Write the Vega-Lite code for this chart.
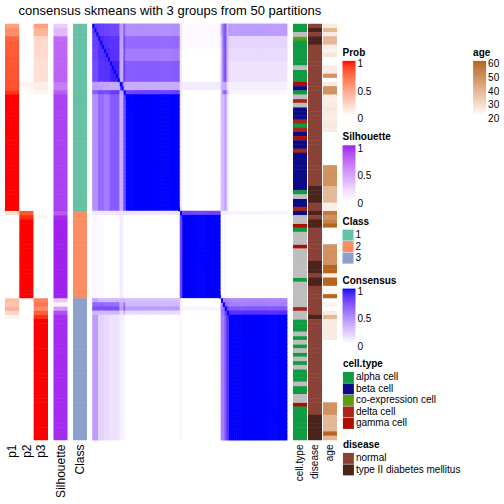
{
  "$schema": "https://vega.github.io/schema/vega-lite/v6.json",
  "padding": {"left": 5, "top": 4, "right": 0, "bottom": 0},
  "autosize": {"type": "pad"},
  "title": {"text": "consensus skmeans with 3 groups from 50 partitions", "anchor": "start", "frame": "group", "dx": 13.5, "fontSize": 13, "fontWeight": "normal", "font": "Liberation Sans", "color": "black", "offset": 5.7, "baseline": "top"},
  "bounds": "flush",
  "spacing": 5.5,
  "config": {
    "view": {"stroke": null},
    "font": "Liberation Sans",
    "axis": {"labelFont": "Liberation Sans", "labelColor": "black", "labelFontSize": 12, "ticks": false, "domain": false, "grid": false, "labelPadding": 4, "title": null, "labelAngle": -90},
    "legend": {"titleFont": "Liberation Sans", "titleFontSize": 10, "titleFontWeight": "bold", "titleColor": "black", "labelFont": "Liberation Sans", "labelFontSize": 10, "labelColor": "black", "gradientLength": 55, "gradientThickness": 13, "gradientStrokeWidth": 0, "labelOffset": 2, "titlePadding": 3, "padding": 0, "symbolType": "square", "symbolSize": 121, "symbolStrokeWidth": 0, "rowPadding": 0.5, "direction": "vertical", "labelOverlap": false}
  },
  "resolve": {"scale": {"color": "independent", "x": "independent", "y": "independent"}, "legend": {"color": "independent"}},
  "datasets": {
    "samples": [
      {"k":0,"cls":"1","p1":0.5,"p2":0,"p3":0.5,"sil":0.25,"ct":"alpha cell","dis":"normal","age":25},
      {"k":1,"cls":"1","p1":0.6,"p2":0,"p3":0.4,"sil":0.35,"ct":"alpha cell","dis":"type II diabetes mellitus","age":38},
      {"k":2,"cls":"1","p1":0.6,"p2":0,"p3":0.4,"sil":0.35,"ct":null,"dis":"normal","age":25},
      {"k":3,"cls":"1","p1":0.78,"p2":0,"p3":0.22,"sil":0.72,"ct":"co-expression cell","dis":"type II diabetes mellitus","age":38},
      {"k":4,"cls":"1","p1":0.8,"p2":0,"p3":0.2,"sil":0.75,"ct":"alpha cell","dis":"type II diabetes mellitus","age":38},
      {"k":5,"cls":"1","p1":0.8,"p2":0,"p3":0.2,"sil":0.75,"ct":"alpha cell","dis":"normal","age":25},
      {"k":6,"cls":"1","p1":0.8,"p2":0,"p3":0.2,"sil":0.75,"ct":"alpha cell","dis":"normal","age":23},
      {"k":7,"cls":"1","p1":0.8,"p2":0,"p3":0.2,"sil":0.75,"ct":"alpha cell","dis":"normal","age":26},
      {"k":8,"cls":"1","p1":0.83,"p2":0,"p3":0.17,"sil":0.76,"ct":"alpha cell","dis":"normal","age":20},
      {"k":9,"cls":"1","p1":0.83,"p2":0,"p3":0.17,"sil":0.76,"ct":"alpha cell","dis":"normal","age":20},
      {"k":10,"cls":"1","p1":0.83,"p2":0,"p3":0.17,"sil":0.76,"ct":null,"dis":"normal","age":25},
      {"k":11,"cls":"1","p1":0.83,"p2":0,"p3":0.17,"sil":0.76,"ct":"alpha cell","dis":"normal","age":25},
      {"k":12,"cls":"1","p1":0.83,"p2":0,"p3":0.17,"sil":0.76,"ct":"alpha cell","dis":"normal","age":48},
      {"k":13,"cls":"1","p1":0.83,"p2":0,"p3":0.17,"sil":0.76,"ct":"alpha cell","dis":"normal","age":20},
      {"k":14,"cls":"1","p1":0.84,"p2":0.08,"p3":0.08,"sil":0.65,"ct":"gamma cell","dis":"normal","age":25},
      {"k":15,"cls":"1","p1":0.86,"p2":0.04,"p3":0.1,"sil":0.65,"ct":"beta cell","dis":"normal","age":48},
      {"k":16,"cls":"1","p1":0.93,"p2":0.02,"p3":0.05,"sil":0.8,"ct":"alpha cell","dis":"normal","age":48},
      {"k":17,"cls":"1","p1":1,"p2":0,"p3":0,"sil":0.9,"ct":null,"dis":"normal","age":25},
      {"k":18,"cls":"1","p1":1,"p2":0,"p3":0,"sil":0.9,"ct":"delta cell","dis":"normal","age":24},
      {"k":19,"cls":"1","p1":1,"p2":0,"p3":0,"sil":0.9,"ct":null,"dis":"normal","age":25},
      {"k":20,"cls":"1","p1":1,"p2":0,"p3":0,"sil":0.9,"ct":"beta cell","dis":"normal","age":26},
      {"k":21,"cls":"1","p1":1,"p2":0,"p3":0,"sil":0.9,"ct":"beta cell","dis":"normal","age":25},
      {"k":22,"cls":"1","p1":1,"p2":0,"p3":0,"sil":0.9,"ct":"beta cell","dis":"normal","age":24},
      {"k":23,"cls":"1","p1":1,"p2":0,"p3":0,"sil":0.9,"ct":"delta cell","dis":"normal","age":25},
      {"k":24,"cls":"1","p1":1,"p2":0,"p3":0,"sil":0.9,"ct":"alpha cell","dis":"normal","age":26},
      {"k":25,"cls":"1","p1":1,"p2":0,"p3":0,"sil":0.9,"ct":"delta cell","dis":"normal","age":25},
      {"k":26,"cls":"1","p1":1,"p2":0,"p3":0,"sil":0.9,"ct":"beta cell","dis":"normal","age":20},
      {"k":27,"cls":"1","p1":1,"p2":0,"p3":0,"sil":0.9,"ct":"gamma cell","dis":"normal","age":20},
      {"k":28,"cls":"1","p1":1,"p2":0,"p3":0,"sil":0.9,"ct":"beta cell","dis":"normal","age":20},
      {"k":29,"cls":"1","p1":1,"p2":0,"p3":0,"sil":0.9,"ct":"beta cell","dis":"normal","age":20},
      {"k":30,"cls":"1","p1":1,"p2":0,"p3":0,"sil":0.9,"ct":"delta cell","dis":"normal","age":20},
      {"k":31,"cls":"1","p1":1,"p2":0,"p3":0,"sil":0.9,"ct":"beta cell","dis":"normal","age":20},
      {"k":32,"cls":"1","p1":1,"p2":0,"p3":0,"sil":0.9,"ct":"beta cell","dis":"normal","age":20},
      {"k":33,"cls":"1","p1":1,"p2":0,"p3":0,"sil":0.9,"ct":"beta cell","dis":"normal","age":20},
      {"k":34,"cls":"1","p1":1,"p2":0,"p3":0,"sil":0.9,"ct":"beta cell","dis":"normal","age":48},
      {"k":35,"cls":"1","p1":1,"p2":0,"p3":0,"sil":0.9,"ct":"beta cell","dis":"normal","age":48},
      {"k":36,"cls":"1","p1":1,"p2":0,"p3":0,"sil":0.9,"ct":"beta cell","dis":"normal","age":48},
      {"k":37,"cls":"1","p1":1,"p2":0,"p3":0,"sil":0.9,"ct":"beta cell","dis":"normal","age":48},
      {"k":38,"cls":"1","p1":1,"p2":0,"p3":0,"sil":0.9,"ct":"beta cell","dis":"normal","age":48},
      {"k":39,"cls":"1","p1":1,"p2":0,"p3":0,"sil":0.9,"ct":"beta cell","dis":"type II diabetes mellitus","age":38},
      {"k":40,"cls":"1","p1":1,"p2":0,"p3":0,"sil":0.9,"ct":"alpha cell","dis":"type II diabetes mellitus","age":38},
      {"k":41,"cls":"1","p1":1,"p2":0,"p3":0,"sil":0.9,"ct":null,"dis":"type II diabetes mellitus","age":38},
      {"k":42,"cls":"1","p1":1,"p2":0,"p3":0,"sil":0.9,"ct":"beta cell","dis":"type II diabetes mellitus","age":38},
      {"k":43,"cls":"1","p1":1,"p2":0,"p3":0,"sil":0.9,"ct":"beta cell","dis":"normal","age":24},
      {"k":44,"cls":"1","p1":1,"p2":0,"p3":0,"sil":0.9,"ct":"delta cell","dis":"normal","age":24},
      {"k":45,"cls":"2","p1":0.18,"p2":0.82,"p3":0,"sil":0.8,"ct":"beta cell","dis":"type II diabetes mellitus","age":54},
      {"k":46,"cls":"2","p1":0,"p2":0.95,"p3":0.05,"sil":0.97,"ct":null,"dis":"normal","age":48},
      {"k":47,"cls":"2","p1":0,"p2":1,"p3":0,"sil":1,"ct":null,"dis":"type II diabetes mellitus","age":52},
      {"k":48,"cls":"2","p1":0,"p2":1,"p3":0,"sil":1,"ct":"gamma cell","dis":"type II diabetes mellitus","age":60},
      {"k":49,"cls":"2","p1":0,"p2":1,"p3":0,"sil":1,"ct":"alpha cell","dis":"normal","age":20},
      {"k":50,"cls":"2","p1":0,"p2":1,"p3":0,"sil":1,"ct":null,"dis":"normal","age":20},
      {"k":51,"cls":"2","p1":0,"p2":1,"p3":0,"sil":1,"ct":null,"dis":"normal","age":20},
      {"k":52,"cls":"2","p1":0,"p2":1,"p3":0,"sil":1,"ct":null,"dis":"normal","age":20},
      {"k":53,"cls":"2","p1":0,"p2":1,"p3":0,"sil":1,"ct":"gamma cell","dis":"normal","age":48},
      {"k":54,"cls":"2","p1":0,"p2":1,"p3":0,"sil":1,"ct":null,"dis":"normal","age":48},
      {"k":55,"cls":"2","p1":0,"p2":1,"p3":0,"sil":1,"ct":null,"dis":"normal","age":48},
      {"k":56,"cls":"2","p1":0,"p2":1,"p3":0,"sil":1,"ct":null,"dis":"normal","age":48},
      {"k":57,"cls":"2","p1":0,"p2":1,"p3":0,"sil":1,"ct":null,"dis":"type II diabetes mellitus","age":48},
      {"k":58,"cls":"2","p1":0,"p2":1,"p3":0,"sil":1,"ct":null,"dis":"type II diabetes mellitus","age":60},
      {"k":59,"cls":"2","p1":0,"p2":1,"p3":0,"sil":1,"ct":null,"dis":"type II diabetes mellitus","age":60},
      {"k":60,"cls":"2","p1":0,"p2":1,"p3":0,"sil":1,"ct":null,"dis":"normal","age":24},
      {"k":61,"cls":"2","p1":0,"p2":1,"p3":0,"sil":1,"ct":"alpha cell","dis":"type II diabetes mellitus","age":60},
      {"k":62,"cls":"2","p1":0,"p2":1,"p3":0,"sil":1,"ct":null,"dis":"type II diabetes mellitus","age":60},
      {"k":63,"cls":"2","p1":0,"p2":1,"p3":0,"sil":1,"ct":null,"dis":"normal","age":22},
      {"k":64,"cls":"2","p1":0,"p2":1,"p3":0,"sil":1,"ct":null,"dis":"normal","age":22},
      {"k":65,"cls":"2","p1":0,"p2":1,"p3":0,"sil":1,"ct":null,"dis":"normal","age":60},
      {"k":66,"cls":"3","p1":0.35,"p2":0,"p3":0.65,"sil":0.27,"ct":null,"dis":"normal","age":20},
      {"k":67,"cls":"3","p1":0.3,"p2":0,"p3":0.7,"sil":0.05,"ct":null,"dis":"normal","age":23},
      {"k":68,"cls":"3","p1":0.42,"p2":0,"p3":0.58,"sil":0.5,"ct":"delta cell","dis":"normal","age":20},
      {"k":69,"cls":"3","p1":0.2,"p2":0,"p3":0.8,"sil":0.85,"ct":null,"dis":"normal","age":25},
      {"k":70,"cls":"3","p1":0.06,"p2":0,"p3":0.94,"sil":0.95,"ct":null,"dis":"type II diabetes mellitus","age":38},
      {"k":71,"cls":"3","p1":0,"p2":0,"p3":1,"sil":0.97,"ct":"alpha cell","dis":"normal","age":25},
      {"k":72,"cls":"3","p1":0,"p2":0,"p3":1,"sil":0.97,"ct":"alpha cell","dis":"normal","age":25},
      {"k":73,"cls":"3","p1":0,"p2":0,"p3":1,"sil":0.97,"ct":"alpha cell","dis":"normal","age":25},
      {"k":74,"cls":"3","p1":0,"p2":0,"p3":1,"sil":0.97,"ct":null,"dis":"normal","age":25},
      {"k":75,"cls":"3","p1":0,"p2":0,"p3":1,"sil":0.97,"ct":"alpha cell","dis":"normal","age":25},
      {"k":76,"cls":"3","p1":0,"p2":0,"p3":1,"sil":0.97,"ct":null,"dis":"normal","age":20},
      {"k":77,"cls":"3","p1":0,"p2":0,"p3":1,"sil":0.97,"ct":"alpha cell","dis":"normal","age":20},
      {"k":78,"cls":"3","p1":0,"p2":0,"p3":1,"sil":0.97,"ct":null,"dis":"normal","age":20},
      {"k":79,"cls":"3","p1":0,"p2":0,"p3":1,"sil":0.97,"ct":"alpha cell","dis":"normal","age":20},
      {"k":80,"cls":"3","p1":0,"p2":0,"p3":1,"sil":0.97,"ct":null,"dis":"normal","age":20},
      {"k":81,"cls":"3","p1":0,"p2":0,"p3":1,"sil":0.97,"ct":"alpha cell","dis":"normal","age":20},
      {"k":82,"cls":"3","p1":0,"p2":0,"p3":1,"sil":0.97,"ct":null,"dis":"normal","age":20},
      {"k":83,"cls":"3","p1":0,"p2":0,"p3":1,"sil":0.97,"ct":"alpha cell","dis":"normal","age":20},
      {"k":84,"cls":"3","p1":0,"p2":0,"p3":1,"sil":0.97,"ct":"alpha cell","dis":"normal","age":20},
      {"k":85,"cls":"3","p1":0,"p2":0,"p3":1,"sil":0.97,"ct":"alpha cell","dis":"normal","age":20},
      {"k":86,"cls":"3","p1":0,"p2":0,"p3":1,"sil":0.97,"ct":null,"dis":"normal","age":20},
      {"k":87,"cls":"3","p1":0,"p2":0,"p3":1,"sil":0.97,"ct":"alpha cell","dis":"normal","age":20},
      {"k":88,"cls":"3","p1":0,"p2":0,"p3":1,"sil":0.97,"ct":"alpha cell","dis":"normal","age":20},
      {"k":89,"cls":"3","p1":0,"p2":0,"p3":1,"sil":0.97,"ct":null,"dis":"normal","age":20},
      {"k":90,"cls":"3","p1":0,"p2":0,"p3":1,"sil":0.97,"ct":null,"dis":"normal","age":20},
      {"k":91,"cls":"3","p1":0,"p2":0,"p3":1,"sil":0.97,"ct":"gamma cell","dis":"normal","age":48},
      {"k":92,"cls":"3","p1":0,"p2":0,"p3":1,"sil":0.97,"ct":"alpha cell","dis":"normal","age":48},
      {"k":93,"cls":"3","p1":0,"p2":0,"p3":1,"sil":0.97,"ct":"alpha cell","dis":"normal","age":48},
      {"k":94,"cls":"3","p1":0,"p2":0,"p3":1,"sil":0.97,"ct":"alpha cell","dis":"type II diabetes mellitus","age":38},
      {"k":95,"cls":"3","p1":0,"p2":0,"p3":1,"sil":0.97,"ct":"alpha cell","dis":"type II diabetes mellitus","age":38},
      {"k":96,"cls":"3","p1":0,"p2":0,"p3":1,"sil":0.97,"ct":"alpha cell","dis":"type II diabetes mellitus","age":38},
      {"k":97,"cls":"3","p1":0,"p2":0,"p3":1,"sil":0.97,"ct":"alpha cell","dis":"type II diabetes mellitus","age":38},
      {"k":98,"cls":"3","p1":0,"p2":0,"p3":1,"sil":0.97,"ct":"alpha cell","dis":"type II diabetes mellitus","age":60},
      {"k":99,"cls":"3","p1":0,"p2":0,"p3":1,"sil":0.97,"ct":"alpha cell","dis":"type II diabetes mellitus","age":38}
    ],
    "segs": [
      {"seg":"a","members":[0,1,2]},
      {"seg":"b","members":[3,4,5]},
      {"seg":"c","members":[6,7,8]},
      {"seg":"d","members":[9,10,11,12,13]},
      {"seg":"e","members":[14,15]},
      {"seg":"f","members":[16]},
      {"seg":"g","members":[17,18,19,20,21,22,23,24,25,26,27,28,29,30,31,32,33,34,35,36,37,38,39,40,41,42,43,44]},
      {"seg":"h","members":[45]},
      {"seg":"i","members":[46,47,48,49,50,51,52,53,54,55,56,57,58,59,60,61,62,63,64,65]},
      {"seg":"j","members":[66]},
      {"seg":"l","members":[67]},
      {"seg":"m","members":[68]},
      {"seg":"n","members":[69]},
      {"seg":"o","members":[70,71,72,73,74,75,76,77,78,79,80,81,82,83,84,85,86,87,88,89,90,91,92,93,94,95,96,97,98,99]}
    ],
    "pairs": [
      {"r":"a","c":"a","v":0.85},{"r":"a","c":"b","v":0.82},{"r":"a","c":"c","v":0.8},{"r":"a","c":"d","v":0.78},{"r":"a","c":"e","v":0.42},{"r":"a","c":"f","v":0.7},{"r":"a","c":"g","v":0.48},{"r":"a","c":"h","v":0.1},{"r":"a","c":"i","v":0.03},{"r":"a","c":"j","v":0.4},{"r":"a","c":"l","v":0.65},{"r":"a","c":"m","v":0.75},{"r":"a","c":"n","v":0.3},{"r":"a","c":"o","v":0.42},
      {"r":"b","c":"b","v":0.9},{"r":"b","c":"c","v":0.88},{"r":"b","c":"d","v":0.86},{"r":"b","c":"e","v":0.4},{"r":"b","c":"f","v":0.78},{"r":"b","c":"g","v":0.64},{"r":"b","c":"h","v":0.1},{"r":"b","c":"i","v":0.03},{"r":"b","c":"j","v":0.3},{"r":"b","c":"l","v":0.65},{"r":"b","c":"m","v":0.75},{"r":"b","c":"n","v":0.3},{"r":"b","c":"o","v":0.18},
      {"r":"c","c":"c","v":0.9},{"r":"c","c":"d","v":0.87},{"r":"c","c":"e","v":0.38},{"r":"c","c":"f","v":0.75},{"r":"c","c":"g","v":0.56},{"r":"c","c":"h","v":0.1},{"r":"c","c":"i","v":0},{"r":"c","c":"j","v":0.3},{"r":"c","c":"l","v":0.62},{"r":"c","c":"m","v":0.75},{"r":"c","c":"n","v":0.3},{"r":"c","c":"o","v":0.15},
      {"r":"d","c":"d","v":0.93},{"r":"d","c":"e","v":0.36},{"r":"d","c":"f","v":0.82},{"r":"d","c":"g","v":0.7},{"r":"d","c":"h","v":0.1},{"r":"d","c":"i","v":0},{"r":"d","c":"j","v":0.3},{"r":"d","c":"l","v":0.62},{"r":"d","c":"m","v":0.75},{"r":"d","c":"n","v":0.3},{"r":"d","c":"o","v":0.12},
      {"r":"e","c":"e","v":0.85},{"r":"e","c":"f","v":0.4},{"r":"e","c":"g","v":0.35},{"r":"e","c":"h","v":0.12},{"r":"e","c":"i","v":0.08},{"r":"e","c":"j","v":0.3},{"r":"e","c":"l","v":0.35},{"r":"e","c":"m","v":0.4},{"r":"e","c":"n","v":0.15},{"r":"e","c":"o","v":0.07},
      {"r":"f","c":"f","v":0.95},{"r":"f","c":"g","v":0.8},{"r":"f","c":"h","v":0.1},{"r":"f","c":"i","v":0},{"r":"f","c":"j","v":0.3},{"r":"f","c":"l","v":0.6},{"r":"f","c":"m","v":0.7},{"r":"f","c":"n","v":0.3},{"r":"f","c":"o","v":0.04},
      {"r":"g","c":"g","v":1},{"r":"g","c":"h","v":0.1},{"r":"g","c":"i","v":0},{"r":"g","c":"j","v":0.27},{"r":"g","c":"l","v":0.3},{"r":"g","c":"m","v":0.42},{"r":"g","c":"n","v":0.15},{"r":"g","c":"o","v":0},
      {"r":"h","c":"h","v":1},{"r":"h","c":"i","v":0.8},{"r":"h","c":"j","v":0.07},{"r":"h","c":"l","v":0.07},{"r":"h","c":"m","v":0.07},{"r":"h","c":"n","v":0.07},{"r":"h","c":"o","v":0.05},
      {"r":"i","c":"i","v":1},{"r":"i","c":"j","v":0},{"r":"i","c":"l","v":0},{"r":"i","c":"m","v":0.04},{"r":"i","c":"n","v":0},{"r":"i","c":"o","v":0},
      {"r":"j","c":"j","v":1},{"r":"j","c":"l","v":0.5},{"r":"j","c":"m","v":0.55},{"r":"j","c":"n","v":0.55},{"r":"j","c":"o","v":0.52},
      {"r":"l","c":"l","v":1},{"r":"l","c":"m","v":0.65},{"r":"l","c":"n","v":0.6},{"r":"l","c":"o","v":0.55},
      {"r":"m","c":"m","v":1},{"r":"m","c":"n","v":0.8},{"r":"m","c":"o","v":0.72},
      {"r":"n","c":"n","v":1},{"r":"n","c":"o","v":0.88},
      {"r":"o","c":"o","v":1}
    ]
  },
  "hconcat": [
    {
      "width": 43, "height": 416,
      "data": {"name": "samples"},
      "transform": [{"fold": ["p1", "p2", "p3"], "as": ["col", "prob"]}],
      "mark": {"type": "rect", "height": {"band": 1.12}},
      "encoding": {
        "x": {"field": "col", "type": "nominal", "scale": {"paddingInner": 0, "paddingOuter": 0}},
        "y": {"field": "k", "type": "ordinal", "axis": null, "scale": {"paddingInner": 0, "paddingOuter": 0}},
        "color": {"field": "prob", "type": "quantitative", "scale": {"domain": [0, 1], "range": ["#FFFFFF", "#FF0000"], "interpolate": "lab"}, "legend": {"type": "gradient", "title": "Prob", "orient": "none", "legendX": 337.5, "legendY": 23.9, "values": [0, 0.5, 1], "format": "~g", "encode": {"labels": {"update": {"baseline": {"value": "middle"}, "dy": {"value": 3.3}}}}}}
      }
    },
    {
      "width": 14, "height": 416,
      "data": {"name": "samples"},
      "mark": {"type": "rect", "height": {"band": 1.12}},
      "encoding": {
        "x": {"datum": "Silhouette", "type": "nominal", "scale": {"paddingInner": 0, "paddingOuter": 0}},
        "y": {"field": "k", "type": "ordinal", "axis": null, "scale": {"paddingInner": 0, "paddingOuter": 0}},
        "color": {"field": "sil", "type": "quantitative", "scale": {"domain": [0, 1], "range": ["#FFFFFF", "#A020F0"], "interpolate": "lab"}, "legend": {"type": "gradient", "title": "Silhouette", "orient": "none", "legendX": 289, "legendY": 108.3, "values": [0, 0.5, 1], "format": "~g", "encode": {"labels": {"update": {"baseline": {"value": "middle"}, "dy": {"value": 3.3}}}}}}
      }
    },
    {
      "width": 14, "height": 416,
      "data": {"name": "samples"},
      "mark": {"type": "rect", "height": {"band": 1.12}},
      "encoding": {
        "x": {"datum": "Class", "type": "nominal", "scale": {"paddingInner": 0, "paddingOuter": 0}},
        "y": {"field": "k", "type": "ordinal", "axis": null, "scale": {"paddingInner": 0, "paddingOuter": 0}},
        "color": {"field": "cls", "type": "nominal", "scale": {"domain": ["1", "2", "3"], "range": ["#66C2A5", "#FC8D62", "#8DA0CB"]}, "legend": {"title": "Class", "orient": "none", "legendX": 269.5, "legendY": 192.6}}
      }
    },
    {
      "width": 194.6, "height": 416,
      "layer": [
        {
          "data": {"name": "pairs"},
          "transform": [
            {"lookup": "r", "from": {"data": {"name": "segs"}, "key": "seg", "fields": ["members"]}, "as": ["rk"]},
            {"lookup": "c", "from": {"data": {"name": "segs"}, "key": "seg", "fields": ["members"]}, "as": ["ck"]},
            {"flatten": ["rk"]},
            {"flatten": ["ck"]}
          ],
          "mark": {"type": "rect", "width": {"band": 1.3}, "height": {"band": 1.2}},
          "encoding": {
            "x": {"field": "ck", "type": "ordinal", "axis": null, "scale": {"paddingInner": 0, "paddingOuter": 0}},
            "y": {"field": "rk", "type": "ordinal", "axis": null, "scale": {"paddingInner": 0, "paddingOuter": 0}},
            "color": {"field": "v", "type": "quantitative", "scale": {"domain": [0, 1], "range": ["#FFFFFF", "#0000FF"], "interpolate": "lab"}, "legend": {"type": "gradient", "title": "Consensus", "orient": "none", "legendX": 250, "legendY": 251.6, "values": [0, 0.5, 1], "format": "~g", "encode": {"labels": {"update": {"baseline": {"value": "middle"}, "dy": {"value": 3.3}}}}}}
          }
        },
        {
          "data": {"name": "pairs"},
          "transform": [
            {"filter": "datum.r != datum.c"},
            {"lookup": "r", "from": {"data": {"name": "segs"}, "key": "seg", "fields": ["members"]}, "as": ["rk"]},
            {"lookup": "c", "from": {"data": {"name": "segs"}, "key": "seg", "fields": ["members"]}, "as": ["ck"]},
            {"flatten": ["rk"]},
            {"flatten": ["ck"]}
          ],
          "mark": {"type": "rect", "width": {"band": 1.3}, "height": {"band": 1.2}},
          "encoding": {
            "x": {"field": "rk", "type": "ordinal", "axis": null},
            "y": {"field": "ck", "type": "ordinal", "axis": null},
            "color": {"field": "v", "type": "quantitative"}
          }
        },
        {
          "data": {"name": "samples"},
          "mark": {"type": "rect", "color": "#0000FF"},
          "encoding": {
            "x": {"field": "k", "type": "ordinal", "axis": null},
            "y": {"field": "k", "type": "ordinal", "axis": null}
          }
        }
      ]
    },
    {
      "width": 44, "height": 416,
      "data": {"name": "samples"},
      "resolve": {"scale": {"color": "independent"}, "legend": {"color": "independent"}},
      "encoding": {
        "y": {"field": "k", "type": "ordinal", "axis": null, "scale": {"paddingInner": 0, "paddingOuter": 0}}
      },
      "layer": [
        {
          "transform": [{"filter": "datum.ct != null"}],
          "mark": {"type": "rect", "height": {"band": 1.12}},
          "encoding": {
            "x": {"datum": "cell.type", "type": "nominal", "scale": {"domain": ["cell.type", "disease", "age"], "paddingInner": 0.0667, "paddingOuter": 0}, "axis": {"labelFontSize": 10}},
            "color": {"field": "ct", "type": "nominal", "scale": {"domain": ["alpha cell", "beta cell", "co-expression cell", "delta cell", "gamma cell"], "range": ["#0E9B42", "#0B0B8A", "#5A9F12", "#A6261A", "#B00D02"]}, "legend": {"title": "cell.type", "orient": "none", "legendX": 49.9, "legendY": 334.9}}
          }
        },
        {
          "transform": [{"filter": "datum.ct == null"}],
          "mark": {"type": "rect", "color": "#BEBEBE", "height": {"band": 1.12}},
          "encoding": {
            "x": {"datum": "cell.type", "type": "nominal"}
          }
        },
        {
          "mark": {"type": "rect", "height": {"band": 1.12}},
          "encoding": {
            "x": {"datum": "disease", "type": "nominal"},
            "color": {"field": "dis", "type": "nominal", "scale": {"domain": ["normal", "type II diabetes mellitus"], "range": ["#8B4236", "#4B231A"]}, "legend": {"title": "disease", "orient": "none", "legendX": 49.9, "legendY": 415.9}}
          }
        },
        {
          "mark": {"type": "rect", "height": {"band": 1.12}},
          "encoding": {
            "x": {"datum": "age", "type": "nominal"},
            "color": {"field": "age", "type": "quantitative", "scale": {"domain": [20, 60], "range": ["#FFFFFF", "#B5651D"], "interpolate": "lab"}, "legend": {"type": "gradient", "title": "age", "orient": "none", "legendX": 180.1, "legendY": 23.9, "values": [20, 30, 40, 50, 60], "encode": {"labels": {"update": {"baseline": {"value": "middle"}, "dy": {"value": 3.3}}}}}}
          }
        }
      ]
    }
  ]
}
